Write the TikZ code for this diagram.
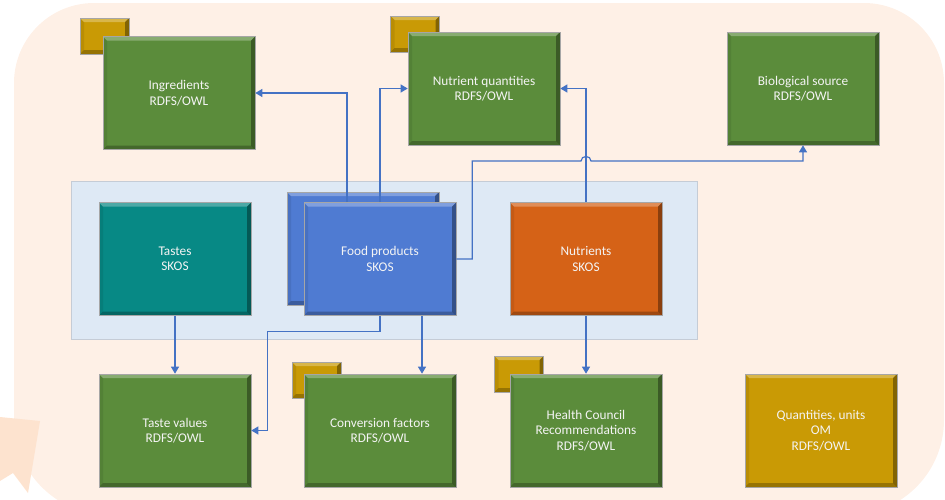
\documentclass[tikz,border=0pt]{standalone}
\usepackage{fontspec}
\setmainfont{Carlito}
\usetikzlibrary{arrows.meta}
\definecolor{bgpeach}{HTML}{FEF0E6}
\definecolor{tailpeach}{HTML}{FDE3CF}
\definecolor{panelblue}{HTML}{DEE9F5}
\definecolor{panelline}{HTML}{C5CCD6}
\definecolor{boxgreen}{HTML}{5B8C3B}
\definecolor{boxteal}{HTML}{078985}
\definecolor{boxblue}{HTML}{4F7BD2}
\definecolor{boxorange}{HTML}{D56217}
\definecolor{boxgold}{HTML}{C99A05}
\definecolor{conn}{HTML}{4472C4}
\definecolor{txt}{HTML}{F4F4F4}
\tikzset{
 bevel/.style={path picture={
   \fill[white,opacity=.28] (path picture bounding box.north west) -- (path picture bounding box.north east) -- ([xshift=-4pt,yshift=-4pt]path picture bounding box.north east) -- ([xshift=4pt,yshift=-4pt]path picture bounding box.north west) -- cycle;
   \fill[black,opacity=.35] (path picture bounding box.north east) -- (path picture bounding box.south east) -- ([xshift=-4pt,yshift=4pt]path picture bounding box.south east) -- ([xshift=-4pt,yshift=-4pt]path picture bounding box.north east) -- cycle;
   \fill[black,opacity=.25] (path picture bounding box.south west) -- (path picture bounding box.south east) -- ([xshift=-4pt,yshift=4pt]path picture bounding box.south east) -- ([xshift=4pt,yshift=4pt]path picture bounding box.south west) -- cycle;
   \fill[black,opacity=.08] (path picture bounding box.north west) -- (path picture bounding box.south west) -- ([xshift=4pt,yshift=4pt]path picture bounding box.south west) -- ([xshift=4pt,yshift=-4pt]path picture bounding box.north west) -- cycle;
 }},
 box/.style={bevel, draw=black!35, line width=.6pt, minimum width=152pt, minimum height=113pt, inner sep=0pt, text=txt, align=center, font=\fontsize{13.3}{15.5}\selectfont},
 tab/.style={bevel, fill=boxgold, draw=black!35, line width=.6pt, minimum width=49pt, minimum height=36pt, inner sep=0pt},
 panel/.style={fill=panelblue, draw=panelline, line width=.8pt, minimum width=626pt, minimum height=158pt, inner sep=0pt},
 link/.style={draw=conn, line width=1.2pt, -{Triangle[width=8pt,length=7pt]}},
}
\begin{document}
\begin{tikzpicture}[x=1pt,y=-1pt]
\useasboundingbox (0,0) rectangle (945,499);
\clip (0,0) rectangle (945,499);
% background callout
\fill[bgpeach] (14,250) [rounded corners=80pt] -- (14,3) -- (944,3) [rounded corners=95pt] -- (944,515) -- (14,515) [rounded corners=0pt] -- (14,250) -- cycle;
\fill[tailpeach] (0,417) -- (40,421) -- (28,493) -- (13,473) -- (0,481) -- cycle;
% SKOS panel
\node[panel] (panel) at (384,260) {};
% gold tabs
\node[tab] (t1) at (104.5,36) {};
\node[tab] (t2) at (415,34) {};
\node[tab] (t3) at (316.5,380) {};
\node[tab] (t4) at (519,374) {};
% boxes
\node[box, fill=boxgreen] (ing) at (179,93) {Ingredients\\RDFS/OWL};
\node[box, fill=boxgreen] (nq) at (484,88.5) {Nutrient quantities\\RDFS/OWL};
\node[box, fill=boxgreen] (bio) at (803,88.5) {Biological source\\RDFS/OWL};
\node[box, fill=boxteal] (ts) at (175,259) {Tastes\\SKOS};
\node[box, fill=boxblue] (fpb) at (363,248.5) {};
\node[box, fill=boxblue] (fp) at (380,259) {Food products\\SKOS};
\node[box, fill=boxorange] (nu) at (586,259) {Nutrients\\SKOS};
\node[box, fill=boxgreen] (tv) at (175,430.5) {Taste values\\RDFS/OWL};
\node[box, fill=boxgreen] (cf) at (380,430.5) {Conversion factors\\RDFS/OWL};
\node[box, fill=boxgreen] (hc) at (586,430.5) {Health Council\\Recommendations\\RDFS/OWL};
\node[box, fill=boxgold] (qu) at (821,430.5) {Quantities, units\\OM\\RDFS/OWL};
% connectors
\coordinate (fpa) at ([xshift=-33pt]fp.north);
\coordinate (fpc) at ([xshift=42pt]fp.south);
\draw[link] (fpa) |- (ing.east);
\draw[link] (fp.north) |- (nq.west);
\draw[link] (nu.north) |- (nq.east);
\draw[link] (fp.east) -- ++(16,0) |- (581,161) .. controls (581,155) and (591,155) .. (591,161) -| (bio.south);
\draw[link] (fp.south) -- ++(0,16) -| ([xshift=16pt]tv.east) -- (tv.east);
\draw[link] (fpc) -- (fpc |- cf.north);
\draw[link] (ts.south) -- (tv.north);
\draw[link] (nu.south) -- (hc.north);
\end{tikzpicture}
\end{document}
